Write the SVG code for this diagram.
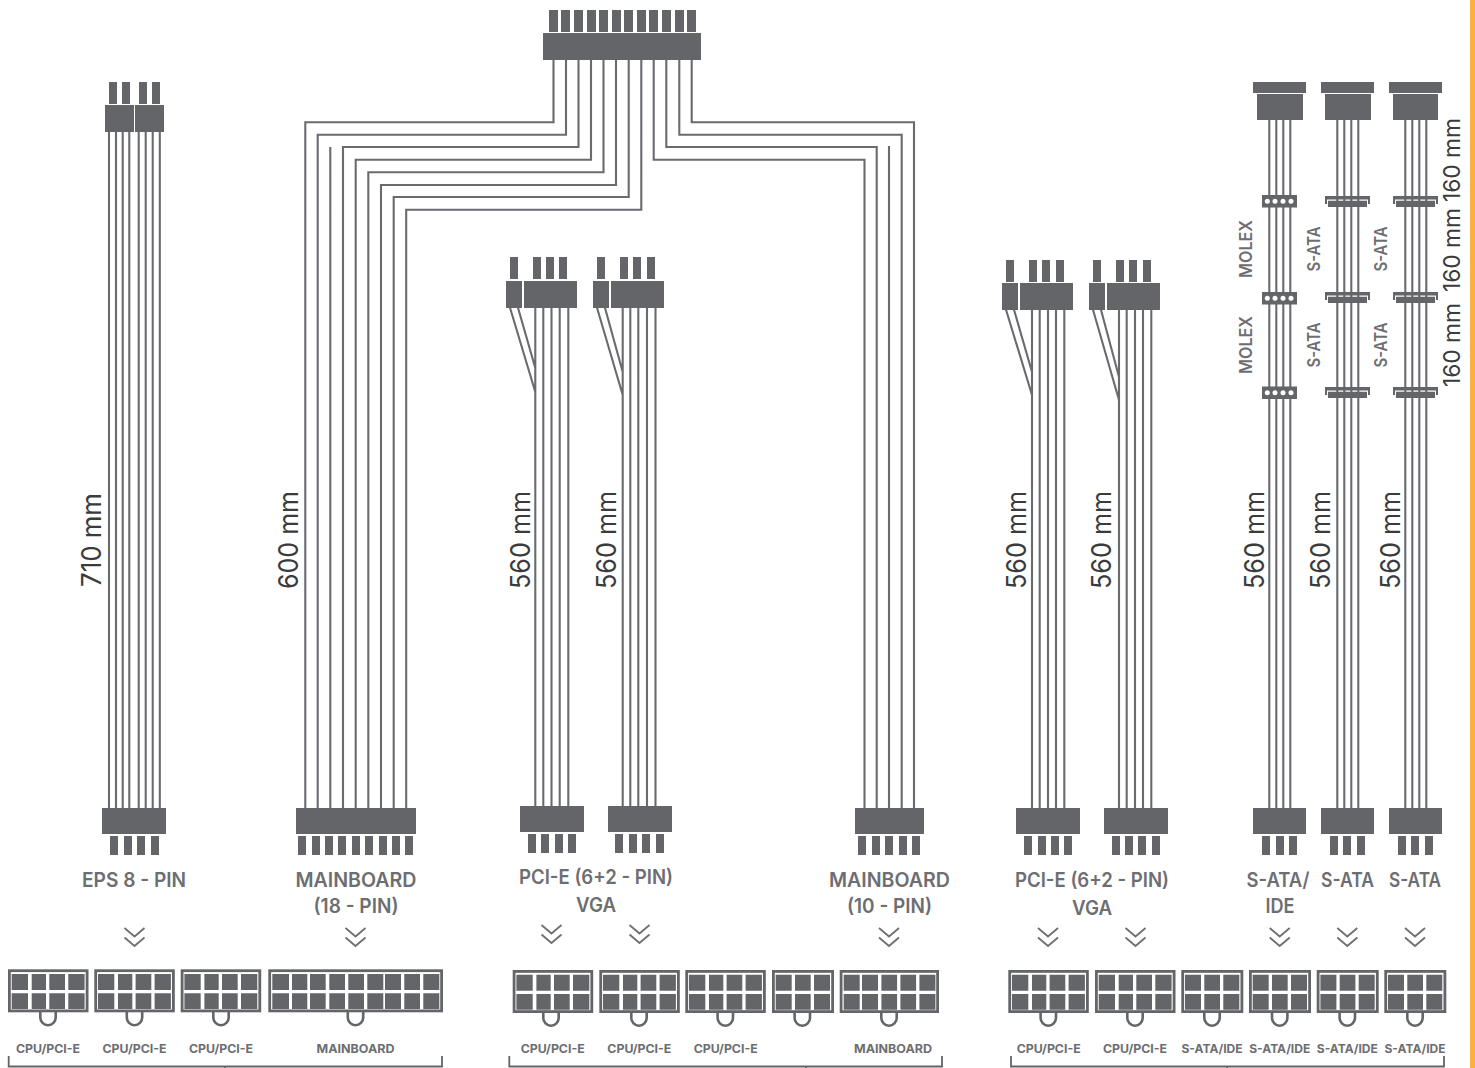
<svg xmlns="http://www.w3.org/2000/svg" xmlns:xlink="http://www.w3.org/1999/xlink" width="1475" height="1068" viewBox="0 0 1475 1068">
<style>
.b{fill:#636569}
.w{fill:none;stroke:#696b6f;stroke-width:2.1}
.line{fill:none;stroke:#636569;stroke-width:1.8}
.hook{fill:none;stroke:#636569;stroke-width:2.6}
.ch{fill:none;stroke:#6d6f73;stroke-width:1.8}
text{font-family:"Inter","Liberation Sans",sans-serif}
.lab{font-size:20px;font-weight:600;fill:#6d6e71;text-anchor:middle}
.sm{font-size:12px;font-weight:700;fill:#6d6e71;text-anchor:middle}
.rot{font-size:17px;font-weight:600;fill:#6d6e71;text-anchor:middle}
.dim{font-size:27px;font-weight:400;fill:#3a3b3d;text-anchor:middle}
.dim2{font-size:23px;font-weight:400;fill:#3a3b3d;text-anchor:middle}
</style>
<defs>
<g id="p4"><rect class="b" width="80.5" height="43"/><rect fill="#fff" x="2.8" y="2.8" width="74.9" height="37.4"/><path class="b" d="M3.7 4.7h16.3v16H3.7zM23.7 4.7h14.3v16H23.7zM41.3 4.7h15.7v16H41.3zM60.3 4.7h16.3v16H60.3zM3.7 24h16.3v15.7H3.7zM23.7 24h14.3v15.7H23.7zM41.3 24h15.7v15.7H41.3zM60.3 24h16.3v15.7H60.3z"/></g>
<g id="p3"><rect class="b" width="62" height="43"/><rect fill="#fff" x="2.8" y="2.8" width="56.4" height="37.4"/><path class="b" d="M3.7 4.7h16v16H3.7zM23 4.7h15.7v16H23zM42 4.7h16v16H42zM3.7 24h16v15.7H3.7zM23 24h15.7v15.7H23zM42 24h16v15.7H42z"/></g>
<g id="p5"><rect class="b" width="99.3" height="43"/><rect fill="#fff" x="2.8" y="2.8" width="93.7" height="37.4"/><path class="b" d="M4 4.7h16v16H4zM22.3 4.7h16v16H22.3zM41.7 4.7h15.7v16H41.7zM60.7 4.7h15.7v16H60.7zM79.7 4.7h16v16H79.7zM4 24h16v15.7H4zM22.3 24h16v15.7H22.3zM41.7 24h15.7v15.7H41.7zM60.7 24h15.7v15.7H60.7zM79.7 24h16v15.7H79.7z"/></g>
<g id="p9"><rect class="b" width="174.7" height="43"/><rect fill="#fff" x="2.8" y="2.8" width="169.1" height="37.4"/><path class="b" d="M4 4.7h16.7v16H4zM23.7 4.7h15.3v16H23.7zM41.7 4.7h15.7v16H41.7zM61 4.7h15.7v16H61zM80 4.7h15.7v16H80zM99 4.7h16v16H99zM116.7 4.7h16v16H116.7zM136 4.7h15.7v16H136zM155 4.7h16v16H155zM4 24h16.7v15.7H4zM23.7 24h15.3v15.7H23.7zM41.7 24h15.7v15.7H41.7zM61 24h15.7v15.7H61zM80 24h15.7v15.7H80zM99 24h16v15.7H99zM116.7 24h16v15.7H116.7zM136 24h15.7v15.7H136zM155 24h16v15.7H155z"/></g>
<path id="hk" class="hook" d="M-7.7 0v5.5a7.7 7.7 0 0 0 15.4 0V0"/>
<path id="chev" class="ch" d="M-10 0L0 8.5L10 0M-10 9.5L0 18L10 9.5"/>
<g id="molex"><rect class="b" x="0" y="0" width="35" height="12.5"/><circle fill="#fff" cx="5.3" cy="6.3" r="2.5"/><circle fill="#fff" cx="13" cy="6.3" r="2.5"/><circle fill="#fff" cx="21" cy="6.3" r="2.5"/><circle fill="#fff" cx="29" cy="6.3" r="2.5"/></g>
<path id="sata" class="b" d="M0 0H45V8H43V3.6H2V8H0ZM3 4.8H42V11H3Z"/>
</defs>
<rect width="1475" height="1068" fill="#fff"/>
<rect id="edge-bar" x="1470" y="0" width="5" height="1068" fill="#fbb040"/>

<g id="connectors">
<path class="w" d="M109 130V808M116 130V808M122.7 130V808M129.3 130V808M138.7 130V808M145.7 130V808M152.7 130V808M159.8 130V808"/>
<path class="w" d="M553.5 60V122.3H305.3V808M566 60V134.7H317.7V808M578.5 60V147H343V808M591 60V159.7H355.7V808M603.5 60V172.3H368.3V808M616 60V185H381V808M628.7 60V197H393.7V808M641.3 60V209.7H406.2V808M330.3 147V808"/>
<path class="w" d="M691.7 60V122.3H914V808M679.3 60V134.7H901.7V808M666.3 60V147H876.7V808M653.7 60V159.7H864.5V808M889 146V808"/>
<path class="w" d="M535.3 306V806M543.3 306V806M551.5 306V806M559.7 306V806M568.3 306V806M509.5 306L535.3 392M517.5 306L535.3 368"/>
<path class="w" d="M622.7 306V806M630.3 306V806M638.3 306V806M647 306V806M655.5 306V806M596.5 306L622.7 395M604.5 306L622.7 372"/>
<path class="w" d="M1032 308V808M1039.7 308V808M1048 308V808M1056 308V808M1064.3 308V808M1005.5 308L1032 395M1013.5 308L1032 372"/>
<path class="w" d="M1119 308V808M1126.7 308V808M1135 308V808M1143 308V808M1151.3 308V808M1092.5 308L1119 400M1100.5 308L1119 377"/>
<path class="w" d="M1269.3 118V808M1276.3 118V808M1283.3 118V808M1290.3 118V808"/>
<path class="w" d="M1337.3 118V808M1344.3 118V808M1351.3 118V808M1358.3 118V808"/>
<path class="w" d="M1405.3 118V808M1412.3 118V808M1419.3 118V808M1426.3 118V808"/>
</g>

<g id="node-top-header"><path class="b" d="M549 10h9v22h-9zM561 10h9v22h-9zM574 10h9v22h-9zM587 10h9v22h-9zM599 10h9v22h-9zM612 10h9v22h-9zM624 10h9v22h-9zM637 10h9v22h-9zM649 10h9v22h-9zM662 10h9v22h-9zM675 10h9v22h-9zM687 10h9v22h-9z"/><rect class="b" x="543" y="33" width="158" height="27"/></g>

<g id="node-eps-top"><path class="b" d="M109 82h8v22h-8zM122 82h8v22h-8zM139 82h8v22h-8zM152 82h8v22h-8z"/><rect class="b" x="105" y="105" width="29" height="27"/><rect class="b" x="135" y="105" width="29" height="27"/></g>
<g id="node-eps-bottom"><rect class="b" x="102" y="808" width="64" height="26"/><path class="b" d="M110 836h8v19h-8zM124 836h8v19h-8zM137 836h8v19h-8zM151 836h8v19h-8z"/></g>
<g id="node-mb18"><rect class="b" x="296" y="808" width="120" height="26"/><path class="b" d="M298 836h8v19h-8zM312 836h8v19h-8zM325 836h8v19h-8zM338 836h8v19h-8zM352 836h8v19h-8zM365 836h8v19h-8zM379 836h8v19h-8zM392 836h8v19h-8zM405 836h8v19h-8z"/></g>
<g id="node-mb10"><rect class="b" x="855" y="808" width="69" height="26"/><path class="b" d="M858 836h8v19h-8zM872 836h8v19h-8zM885 836h8v19h-8zM899 836h8v19h-8zM912 836h8v19h-8z"/></g>

<g id="node-pcie1-top"><path class="b" d="M510 257h8v22h-8zM533 257h8v22h-8zM546 257h8v22h-8zM559 257h8v22h-8z"/><rect class="b" x="506" y="281" width="16" height="27"/><rect class="b" x="524" y="281" width="53" height="27"/></g>
<g id="node-pcie2-top"><path class="b" d="M597 257h8v22h-8zM620 257h8v22h-8zM633 257h8v22h-8zM647 257h8v22h-8z"/><rect class="b" x="593" y="281" width="16" height="27"/><rect class="b" x="611" y="281" width="53" height="27"/></g>
<g id="node-pcie1-bottom"><rect class="b" x="520" y="806" width="64" height="26"/><path class="b" d="M528 834h8v19h-8zM541 834h8v19h-8zM555 834h8v19h-8zM568 834h8v19h-8z"/></g>
<g id="node-pcie2-bottom"><rect class="b" x="608" y="806" width="64" height="26"/><path class="b" d="M615 834h8v19h-8zM629 834h8v19h-8zM642 834h8v19h-8zM656 834h8v19h-8z"/></g>

<g id="node-pcie3-top"><path class="b" d="M1006 260h8v22h-8zM1029 260h8v22h-8zM1042 260h8v22h-8zM1056 260h8v22h-8z"/><rect class="b" x="1002" y="283" width="16" height="27"/><rect class="b" x="1020" y="283" width="53" height="27"/></g>
<g id="node-pcie4-top"><path class="b" d="M1093 260h8v22h-8zM1116 260h8v22h-8zM1129 260h8v22h-8zM1143 260h8v22h-8z"/><rect class="b" x="1089" y="283" width="16" height="27"/><rect class="b" x="1107" y="283" width="53" height="27"/></g>
<g id="node-pcie3-bottom"><rect class="b" x="1016" y="808" width="64" height="26"/><path class="b" d="M1024 836h8v19h-8zM1038 836h8v19h-8zM1051 836h8v19h-8zM1064 836h8v19h-8z"/></g>
<g id="node-pcie4-bottom"><rect class="b" x="1104" y="808" width="64" height="26"/><path class="b" d="M1112 836h8v19h-8zM1125 836h8v19h-8zM1138 836h8v19h-8zM1152 836h8v19h-8z"/></g>

<g id="node-sata1"><rect class="b" x="1253" y="82" width="53" height="11"/><rect class="b" x="1257" y="94" width="46" height="26"/><use href="#molex" x="1262" y="195"/><use href="#molex" x="1262" y="292"/><use href="#molex" x="1262" y="386.5"/><rect class="b" x="1253" y="808" width="53" height="26"/><path class="b" d="M1262 836h8v19h-8zM1276 836h8v19h-8zM1289 836h8v19h-8z"/></g>
<g id="node-sata2"><rect class="b" x="1321" y="82" width="53" height="11"/><rect class="b" x="1325" y="94" width="46" height="26"/><use href="#sata" x="1325" y="196"/><use href="#sata" x="1325" y="292"/><use href="#sata" x="1325" y="387"/><rect class="b" x="1321" y="808" width="53" height="26"/><path class="b" d="M1330 836h8v19h-8zM1343 836h8v19h-8zM1357 836h8v19h-8z"/></g>
<g id="node-sata3"><rect class="b" x="1389" y="82" width="53" height="11"/><rect class="b" x="1393" y="94" width="45" height="26"/><use href="#sata" x="1393" y="196"/><use href="#sata" x="1393" y="292"/><use href="#sata" x="1393" y="387"/><rect class="b" x="1389" y="808" width="53" height="26"/><path class="b" d="M1398 836h8v19h-8zM1411 836h8v19h-8zM1425 836h8v19h-8z"/></g>

<g id="dimensions">
<text class="dim" transform="translate(101 540) rotate(-90)" textLength="94" lengthAdjust="spacingAndGlyphs">710 mm</text>
<text class="dim" transform="translate(298 540) rotate(-90)" textLength="98" lengthAdjust="spacingAndGlyphs">600 mm</text>
<text class="dim" transform="translate(530 540) rotate(-90)" textLength="98" lengthAdjust="spacingAndGlyphs">560 mm</text>
<text class="dim" transform="translate(616 540) rotate(-90)" textLength="98" lengthAdjust="spacingAndGlyphs">560 mm</text>
<text class="dim" transform="translate(1026 540) rotate(-90)" textLength="98" lengthAdjust="spacingAndGlyphs">560 mm</text>
<text class="dim" transform="translate(1111 540) rotate(-90)" textLength="98" lengthAdjust="spacingAndGlyphs">560 mm</text>
<text class="dim" transform="translate(1264 540) rotate(-90)" textLength="98" lengthAdjust="spacingAndGlyphs">560 mm</text>
<text class="dim" transform="translate(1330 540) rotate(-90)" textLength="98" lengthAdjust="spacingAndGlyphs">560 mm</text>
<text class="dim" transform="translate(1400 540) rotate(-90)" textLength="98" lengthAdjust="spacingAndGlyphs">560 mm</text>
<text class="dim2" transform="translate(1460 160) rotate(-90)" textLength="84" lengthAdjust="spacingAndGlyphs">160 mm</text>
<text class="dim2" transform="translate(1460 250) rotate(-90)" textLength="84" lengthAdjust="spacingAndGlyphs">160 mm</text>
<text class="dim2" transform="translate(1460 345) rotate(-90)" textLength="84" lengthAdjust="spacingAndGlyphs">160 mm</text>
<text class="rot" transform="translate(1252 249) rotate(-90)" textLength="58" lengthAdjust="spacingAndGlyphs">MOLEX</text>
<text class="rot" transform="translate(1252 345) rotate(-90)" textLength="58" lengthAdjust="spacingAndGlyphs">MOLEX</text>
<text class="rot" transform="translate(1319.5 249) rotate(-90)" textLength="45" lengthAdjust="spacingAndGlyphs">S-ATA</text>
<text class="rot" transform="translate(1319.5 345) rotate(-90)" textLength="45" lengthAdjust="spacingAndGlyphs">S-ATA</text>
<text class="rot" transform="translate(1387 249) rotate(-90)" textLength="45" lengthAdjust="spacingAndGlyphs">S-ATA</text>
<text class="rot" transform="translate(1387 345) rotate(-90)" textLength="45" lengthAdjust="spacingAndGlyphs">S-ATA</text>
</g>

<g id="labels">
<text class="lab" x="134" y="887" textLength="104" lengthAdjust="spacingAndGlyphs">EPS 8 - PIN</text>
<text class="lab" x="356" y="887" textLength="121" lengthAdjust="spacingAndGlyphs">MAINBOARD</text>
<text class="lab" x="356" y="912.5" textLength="85" lengthAdjust="spacingAndGlyphs">(18 - PIN)</text>
<text class="lab" x="596" y="884" textLength="154" lengthAdjust="spacingAndGlyphs">PCI-E (6+2 - PIN)</text>
<text class="lab" x="596" y="912" textLength="40" lengthAdjust="spacingAndGlyphs">VGA</text>
<text class="lab" x="889.5" y="887" textLength="121" lengthAdjust="spacingAndGlyphs">MAINBOARD</text>
<text class="lab" x="889.5" y="912.5" textLength="85" lengthAdjust="spacingAndGlyphs">(10 - PIN)</text>
<text class="lab" x="1092" y="887" textLength="154" lengthAdjust="spacingAndGlyphs">PCI-E (6+2 - PIN)</text>
<text class="lab" x="1092" y="914.5" textLength="40" lengthAdjust="spacingAndGlyphs">VGA</text>
<text class="lab" x="1278" y="887" textLength="63" lengthAdjust="spacingAndGlyphs">S-ATA/</text>
<text class="lab" x="1280" y="912.5" textLength="29" lengthAdjust="spacingAndGlyphs">IDE</text>
<text class="lab" x="1347.5" y="887" textLength="53" lengthAdjust="spacingAndGlyphs">S-ATA</text>
<text class="lab" x="1415" y="887" textLength="52" lengthAdjust="spacingAndGlyphs">S-ATA</text>
</g>

<g id="chevrons">
<use href="#chev" x="134.5" y="928"/><use href="#chev" x="355.5" y="928"/>
<use href="#chev" x="551.5" y="925"/><use href="#chev" x="639.5" y="925"/><use href="#chev" x="889" y="928"/>
<use href="#chev" x="1048" y="928"/><use href="#chev" x="1135.5" y="928"/><use href="#chev" x="1279.7" y="928"/><use href="#chev" x="1347.3" y="928"/><use href="#chev" x="1415" y="928"/>
</g>

<g id="plug-1"><use href="#p4" x="8" y="969.3"/><use href="#hk" x="48" y="1012"/></g>
<g id="plug-2"><use href="#p4" x="94.3" y="969.3"/><use href="#hk" x="134.5" y="1012"/></g>
<g id="plug-3"><use href="#p4" x="180.7" y="969.3"/><use href="#hk" x="221" y="1012"/></g>
<g id="plug-4"><use href="#p9" x="268.3" y="969.3"/><use href="#hk" x="355.5" y="1012"/></g>
<g id="plug-5"><use href="#p4" x="512.7" y="970"/><use href="#hk" x="551" y="1012.5"/></g>
<g id="plug-6"><use href="#p4" x="599.3" y="970"/><use href="#hk" x="639" y="1012.5"/></g>
<g id="plug-7"><use href="#p4" x="685.3" y="970"/><use href="#hk" x="725.3" y="1012.5"/></g>
<g id="plug-8"><use href="#p3" x="772" y="970"/><use href="#hk" x="802.3" y="1012.5"/></g>
<g id="plug-9"><use href="#p5" x="839.7" y="970"/><use href="#hk" x="889" y="1012.5"/></g>
<g id="plug-10"><use href="#p4" x="1008.3" y="970"/><use href="#hk" x="1048.3" y="1012.5"/></g>
<g id="plug-11"><use href="#p4" x="1095" y="970"/><use href="#hk" x="1135" y="1012.5"/></g>
<g id="plug-12"><use href="#p3" x="1181.3" y="970"/><use href="#hk" x="1212" y="1012.5"/></g>
<g id="plug-13"><use href="#p3" x="1249" y="970"/><use href="#hk" x="1279.7" y="1012.5"/></g>
<g id="plug-14"><use href="#p3" x="1316.7" y="970"/><use href="#hk" x="1347.3" y="1012.5"/></g>
<g id="plug-15"><use href="#p3" x="1384.3" y="970"/><use href="#hk" x="1415" y="1012.5"/></g>

<g id="plug-labels">
<text class="sm" x="48" y="1052.5" textLength="64" lengthAdjust="spacingAndGlyphs">CPU/PCI-E</text>
<text class="sm" x="134.5" y="1052.5" textLength="64" lengthAdjust="spacingAndGlyphs">CPU/PCI-E</text>
<text class="sm" x="221" y="1052.5" textLength="64" lengthAdjust="spacingAndGlyphs">CPU/PCI-E</text>
<text class="sm" x="355.5" y="1052.5" textLength="78" lengthAdjust="spacingAndGlyphs">MAINBOARD</text>
<text class="sm" x="552.7" y="1052.5" textLength="64" lengthAdjust="spacingAndGlyphs">CPU/PCI-E</text>
<text class="sm" x="639.3" y="1052.5" textLength="64" lengthAdjust="spacingAndGlyphs">CPU/PCI-E</text>
<text class="sm" x="725.7" y="1052.5" textLength="64" lengthAdjust="spacingAndGlyphs">CPU/PCI-E</text>
<text class="sm" x="893" y="1052.5" textLength="78" lengthAdjust="spacingAndGlyphs">MAINBOARD</text>
<text class="sm" x="1048.7" y="1052.5" textLength="64" lengthAdjust="spacingAndGlyphs">CPU/PCI-E</text>
<text class="sm" x="1135" y="1052.5" textLength="64" lengthAdjust="spacingAndGlyphs">CPU/PCI-E</text>
<text class="sm" x="1212" y="1052.5" textLength="61" lengthAdjust="spacingAndGlyphs">S-ATA/IDE</text>
<text class="sm" x="1279.7" y="1052.5" textLength="61" lengthAdjust="spacingAndGlyphs">S-ATA/IDE</text>
<text class="sm" x="1347.3" y="1052.5" textLength="61" lengthAdjust="spacingAndGlyphs">S-ATA/IDE</text>
<text class="sm" x="1415" y="1052.5" textLength="61" lengthAdjust="spacingAndGlyphs">S-ATA/IDE</text>
</g>

<g id="brackets">
<path class="line" d="M8.7 1056V1066.5H442V1056M225 1066.5V1068"/>
<path class="line" d="M509.3 1056V1066.5H942V1056M806 1066.5V1068"/>
<path class="line" d="M1011 1056V1066.5H1444V1056M1227 1066.5V1068"/>
</g>
</svg>
